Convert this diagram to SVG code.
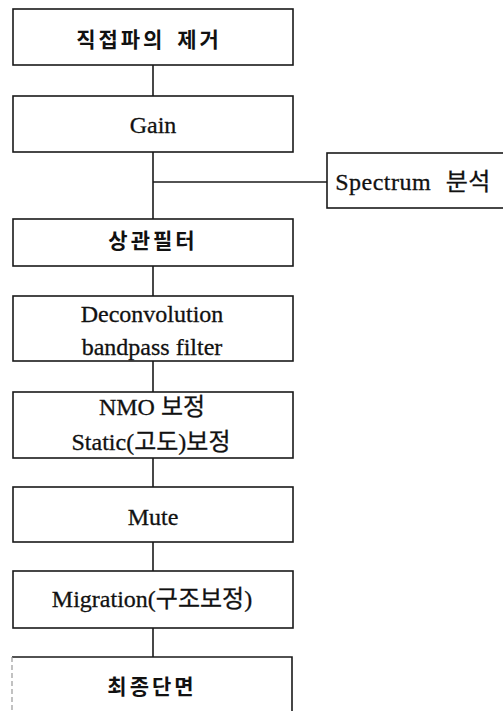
<svg xmlns="http://www.w3.org/2000/svg" width="503" height="711" viewBox="0 0 503 711">
<style>
.box{fill:#fff;stroke:#1a1a1a;stroke-width:1.6}
.ln{stroke:#1a1a1a;stroke-width:1.6;fill:none}
.t{font-family:"Liberation Serif","Noto Sans CJK KR",serif;font-size:24px;fill:#111;stroke:#111;stroke-width:0.3;text-anchor:middle}
.k{font-family:"Noto Sans CJK KR",sans-serif;font-size:21px;font-weight:bold;fill:#111;text-anchor:middle;letter-spacing:3px}
</style>
<rect width="503" height="711" fill="#fff"/>
<g id="connectors">
<line class="ln" x1="153" y1="65" x2="153" y2="96"/>
<line class="ln" x1="153" y1="152" x2="153" y2="219"/>
<line class="ln" x1="153" y1="182" x2="327" y2="182"/>
<line class="ln" x1="153" y1="266" x2="153" y2="296"/>
<line class="ln" x1="153" y1="361" x2="153" y2="392"/>
<line class="ln" x1="153" y1="458" x2="153" y2="487"/>
<line class="ln" x1="153" y1="542" x2="153" y2="571"/>
<line class="ln" x1="153" y1="628" x2="153" y2="657"/>
</g>
<g id="n1"><rect class="box" x="13" y="9" width="280" height="56"/><text class="k" x="149" y="47" style="word-spacing:4px">직접파의 제거</text></g>
<g id="n2"><rect class="box" x="13" y="96" width="280" height="56"/><text class="t" x="153" y="133">Gain</text></g>
<g id="n3"><rect class="box" x="327" y="153" width="190" height="55"/><text class="t" x="413" y="190" style="word-spacing:8px;letter-spacing:0.5px">Spectrum 분석</text></g>
<g id="n4"><rect class="box" x="13" y="219" width="280" height="47"/><text class="k" x="153" y="248">상관필터</text></g>
<g id="n5"><rect class="box" x="13" y="296" width="280" height="65"/><text class="t" x="152" y="322">Deconvolution</text><text class="t" x="152" y="355">bandpass filter</text></g>
<g id="n6"><rect class="box" x="13" y="392" width="280" height="66"/><text class="t" x="152" y="415">NMO 보정</text><text class="t" x="151" y="450">Static(고도)보정</text></g>
<g id="n7"><rect class="box" x="13" y="487" width="280" height="55"/><text class="t" x="153" y="525">Mute</text></g>
<g id="n8"><rect class="box" x="13" y="571" width="280" height="57"/><text class="t" x="152" y="607">Migration(구조보정)</text></g>
<g id="n9"><path class="ln" d="M12,657 H292 V711"/><path d="M12,657 V711" stroke="#999" stroke-width="1.2" stroke-dasharray="5,3" fill="none"/><text class="k" x="152" y="694">최종단면</text></g>
</svg>
